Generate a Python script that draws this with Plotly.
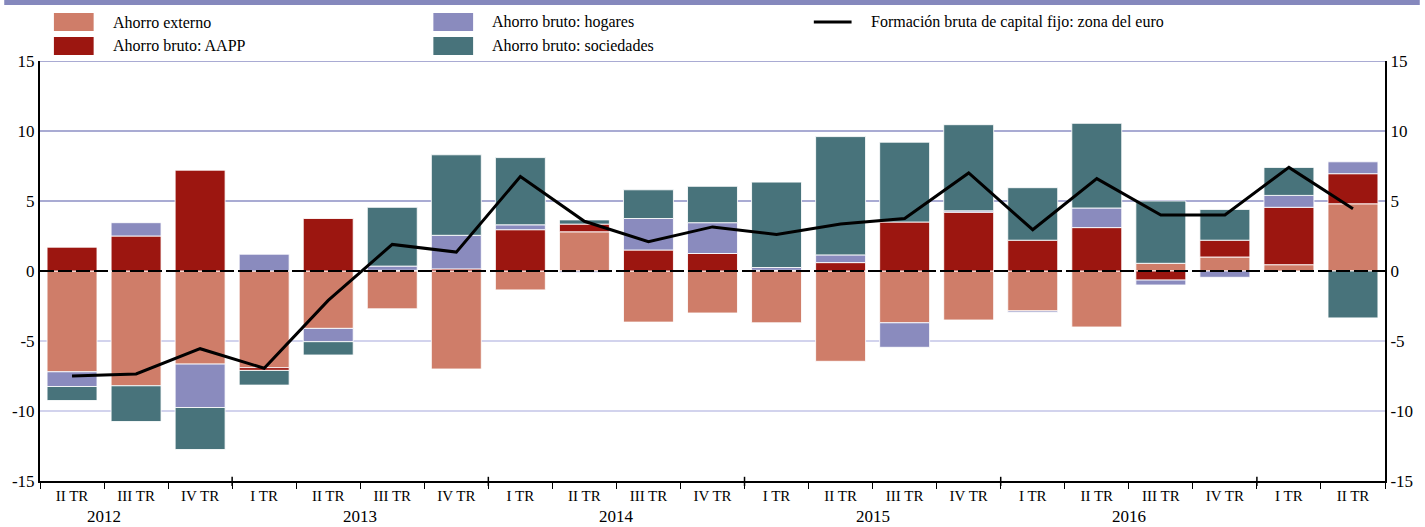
import plotly.graph_objects as go

# ---------------- data ----------------
quarters = ["II TR", "III TR", "IV TR",
            "I TR", "II TR", "III TR", "IV TR",
            "I TR", "II TR", "III TR", "IV TR",
            "I TR", "II TR", "III TR", "IV TR",
            "I TR", "II TR", "III TR", "IV TR",
            "I TR", "II TR"]
quarter_num = [2, 3, 4, 1, 2, 3, 4, 1, 2, 3, 4, 1, 2, 3, 4, 1, 2, 3, 4, 1, 2]
years = ["2012", "2012", "2012",
         "2013", "2013", "2013", "2013",
         "2014", "2014", "2014", "2014",
         "2015", "2015", "2015", "2015",
         "2016", "2016", "2016", "2016",
         "2017", "2017"]
year_labels = ["2012", "2013", "2014", "2015", "2016"]

ahorro_externo = [-7.2, -8.2, -6.65, -6.9, -4.1, -2.7, -7.0,
                  -1.35, 2.8, -3.65, -3.0, -3.7, -6.45, -3.7, -3.5,
                  -2.85, -4.0, 0.55, 1.0, 0.45, 4.8]
ahorro_aapp = [1.7, 2.5, 7.2, -0.2, 3.75, 0.05, 0.15,
               2.95, 0.55, 1.5, 1.25, 0.05, 0.6, 3.5, 4.2,
               2.2, 3.1, -0.65, 1.2, 4.1, 2.15]
ahorro_hogares = [-1.05, 0.95, -3.1, 1.2, -0.95, 0.3, 2.4,
                  0.35, -0.1, 2.25, 2.2, 0.2, 0.55, -1.75, 0.1,
                  -0.1, 1.4, -0.35, -0.45, 0.85, 0.85]
ahorro_sociedades = [-1.0, -2.55, -3.0, -1.05, -0.95, 4.2, 5.75,
                     4.8, 0.3, 2.05, 2.6, 6.1, 8.45, 5.7, 6.15,
                     3.75, 6.05, 4.45, 2.2, 2.0, -3.35]
fbcf_zona_euro = [-7.5, -7.35, -5.55, -6.95, -2.1, 1.9, 1.35,
                  6.75, 3.55, 2.1, 3.15, 2.6, 3.35, 3.75, 7.0,
                  2.95, 6.6, 4.0, 4.0, 7.4, 4.45]

y_tick_vals = [15, 10, 5, 0, -5, -10, -15]
y_tick_text = ["15", "10", "5", "0", "-5", "-10", "-15"]

names = ["Ahorro externo", "Ahorro bruto: AAPP",
         "Ahorro bruto: hogares", "Ahorro bruto: sociedades",
         "Formación bruta de capital fijo: zona del euro"]
colors = ["#CF7D69", "#9C1610", "#8A8BBE", "#48737B", "#000000"]

# ---------------- figure ----------------
FONT = '"Liberation Serif", "Times New Roman", "DejaVu Serif", serif'
W, H = 1425, 527
ML, MR, MT, MB = 36, 35, 61, 46
PW, PH = W - ML - MR, H - MT - MB

x = list(range(len(quarters)))

fig = go.Figure()
for vals, name, col in zip([ahorro_externo, ahorro_aapp, ahorro_hogares, ahorro_sociedades],
                           names[:4], colors[:4]):
    fig.add_trace(go.Bar(x=x, y=vals, name=name, width=0.78,
                         marker=dict(color=col, line=dict(color="rgba(255,255,255,0.85)", width=1)),
                         showlegend=False))

fig.add_trace(go.Scatter(x=x, y=fbcf_zona_euro, name=names[4], mode="lines",
                         line=dict(color="black", width=3), yaxis="y2",
                         showlegend=False))

# helpers for pixel -> paper
def px(xp):
    return (xp - ML) / PW

def py(yp):
    return (H - MB - yp) / PH

shapes = []
# grid lines
for v in y_tick_vals:
    if v in (0, -15):
        continue
    shapes.append(dict(type="line", xref="paper", yref="y", x0=0, x1=1, y0=v, y1=v,
                       line=dict(color="#8C8FC4" if v > 0 else "#C3C5E7", width=1.5),
                       layer="below"))
# dashed zero line
shapes.append(dict(type="line", xref="paper", yref="y", x0=0, x1=1, y0=0, y1=0,
                   line=dict(color="black", width=2, dash="14px,4px"), layer="above"))
# year boundary ticks crossing the axis
for i in range(1, len(x)):
    if years[i] != years[i - 1]:
        shapes.append(dict(type="line", xref="x", yref="paper", x0=i - 0.5, x1=i - 0.5,
                           y0=-0.012, y1=0.01, line=dict(color="black", width=1.5)))
# top band
shapes.append(dict(type="rect", xref="paper", yref="paper", x0=px(0), x1=px(W),
                   y0=py(5), y1=py(0), fillcolor="#8588BD", line=dict(width=0)))

# custom legend
annotations = []
legend_items = [
    (0, 50, 22, "bar"), (1, 50, 46, "bar"),
    (2, 432, 22, "bar"), (3, 432, 46, "bar"),
    (4, 815, 22, "line"),
]
for idx, xl, yc, kind in legend_items:
    if kind == "bar":
        shapes.append(dict(type="rect", xref="paper", yref="paper",
                           x0=px(xl), x1=px(xl + 40), y0=py(yc + 9), y1=py(yc - 9),
                           fillcolor=colors[idx], line=dict(width=0)))
        tx = xl + 57
    else:
        shapes.append(dict(type="line", xref="paper", yref="paper",
                           x0=px(xl), x1=px(xl + 38), y0=py(yc), y1=py(yc),
                           line=dict(color="black", width=3)))
        tx = xl + 56
    annotations.append(dict(text=names[idx], xref="paper", yref="paper",
                            x=px(tx), y=py(yc), xanchor="left", yanchor="middle",
                            showarrow=False, font=dict(family=FONT, size=16, color="black")))

# year labels centered on the four quarters of each year
for yl in year_labels:
    i0 = years.index(yl)
    first_q_index = i0 - (quarter_num[i0] - 1)
    annotations.append(dict(text=yl, xref="x", yref="paper", x=first_q_index + 1.5,
                            y=py(516), xanchor="center", yanchor="middle", showarrow=False,
                            font=dict(family=FONT, size=17, color="black")))

fig.update_layout(
    width=W, height=H,
    margin=dict(l=ML, r=MR, t=MT, b=MB),
    barmode="relative",
    bargap=0.22,
    plot_bgcolor="white", paper_bgcolor="white",
    font=dict(family=FONT, color="black"),
    shapes=shapes,
    annotations=annotations,
    xaxis=dict(range=[-0.5, len(x) - 0.5], tickmode="array", tickvals=x, ticktext=quarters,
               ticks="", showgrid=False, zeroline=False, showline=True, linecolor="black",
               linewidth=2, tickfont=dict(family=FONT, size=15),
               minor=dict(tickmode="array", tickvals=[i - 0.5 for i in range(len(x) + 1)],
                          ticks="outside", ticklen=6, tickcolor="black", tickwidth=1,
                          showgrid=False)),
    yaxis=dict(range=[-15, 15], tickmode="array", tickvals=y_tick_vals, ticktext=y_tick_text,
               showgrid=False, zeroline=False, showline=True, linecolor="black", linewidth=2,
               ticks="", tickfont=dict(family=FONT, size=17)),
    yaxis2=dict(range=[-15, 15], overlaying="y", side="right", tickmode="array",
                tickvals=y_tick_vals, ticktext=y_tick_text, showgrid=False, zeroline=False,
                showline=True, linecolor="black", linewidth=2, ticks="",
                tickfont=dict(family=FONT, size=17)),
)

fig.write_html("out.html",
               config={"displayModeBar": False},
               post_script="document.body.style.margin='0';document.body.style.padding='0';")
